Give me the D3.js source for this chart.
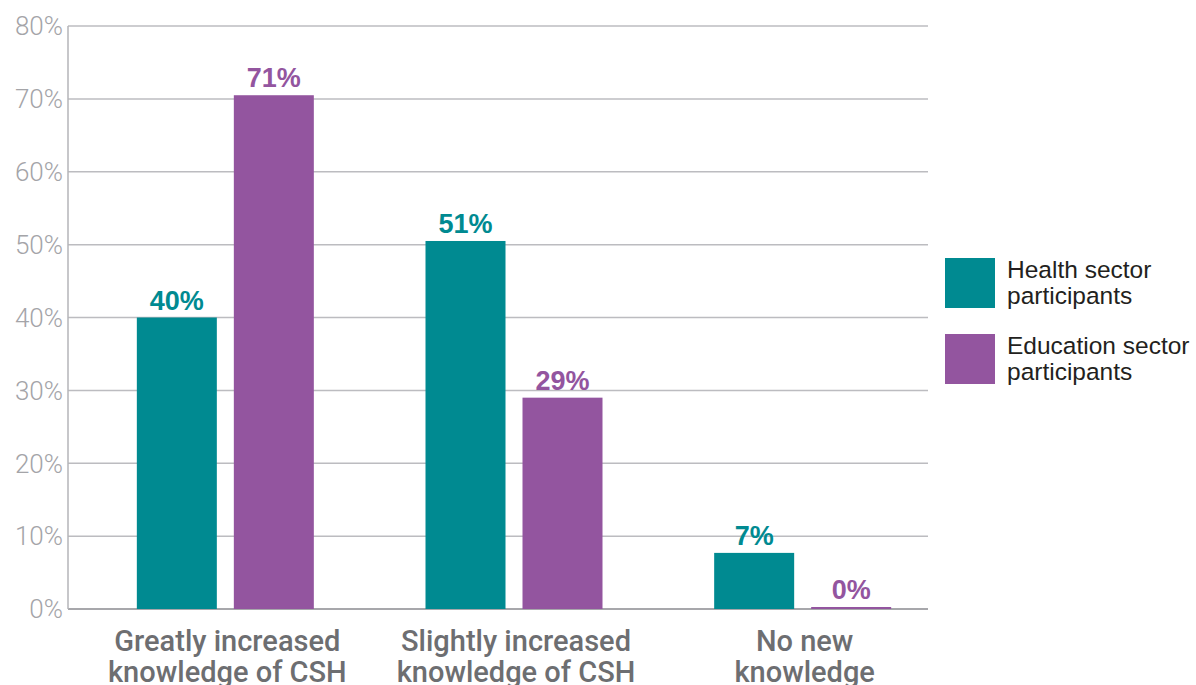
<!DOCTYPE html>
<html>
<head>
<meta charset="utf-8">
<script src="https://cdn.jsdelivr.net/npm/d3@7"></script>
<style>
  body { margin: 0; background: #fff; }
  svg { display: block; font-family: "Liberation Sans", Arial, sans-serif; }
</style>
</head>
<body>
<svg id="chart" width="1196" height="685"></svg>
<script>
// categories and series
const categories = [
    ["Greatly increased", "knowledge of CSH"],
    ["Slightly increased", "knowledge of CSH"],
    ["No new", "knowledge"]
];
const seriesNames = ["Health sector participants", "Education sector participants"];
const health = [40, 50.5, 7.7];
const education = [70.5, 29, 0];
const healthLabels = ["40%", "51%", "7%"];
const educationLabels = ["71%", "29%", "0%"];
const yTicks = [0, 10, 20, 30, 40, 50, 60, 70, 80];

const colors = ["#008a91", "#93559f"];

const svg = d3.select("#chart");

let plot = {left: 68, right: 928, top: 26, bottom: 609};

let y = d3.scaleLinear().domain([0, 80]).range([plot.bottom, plot.top]);

let x = d3.scaleBand()
    .domain(d3.range(categories.length))
    .range([81, 947]);

// two bars per group, 80px wide with a 17px gap
let groupWidth = 177;
let xSub = d3.scaleBand()
    .domain([0, 1])
    .range([0, groupWidth])
    .paddingInner(17 / 97);

let barX = d => x(d.cat) + x.bandwidth() / 2 - groupWidth / 2 + xSub(d.s);

// grid lines
svg.append("g")
    .selectAll("line")
    .data(yTicks)
    .enter().append("line")
    .attr("x1", plot.left)
    .attr("x2", plot.right)
    .attr("y1", d => y(d))
    .attr("y2", d => y(d))
    .attr("stroke", d => d === 0 ? "#a7a7ab" : "#bcbcc0")
    .attr("stroke-width", d => d === 0 ? 2 : 1.5);

// left axis line
svg.append("line")
    .attr("x1", plot.left).attr("x2", plot.left)
    .attr("y1", plot.top).attr("y2", plot.bottom)
    .attr("stroke", "#b4b4b8")
    .attr("stroke-width", 1.5);

// y tick labels
svg.append("g")
    .selectAll("text")
    .data(yTicks)
    .enter().append("text")
    .attr("x", plot.left - 5)
    .attr("y", d => y(d))
    .attr("dy", "0.36em")
    .attr("text-anchor", "end")
    .attr("font-family", "Roboto, sans-serif")
    .attr("font-weight", 300)
    .attr("font-size", 26)
    .attr("fill", "#a4a4a8")
    .text(d => d + "%");

// bars
let rows = categories.map((c, i) => [
    {cat: i, s: 0, v: health[i], label: healthLabels[i]},
    {cat: i, s: 1, v: education[i], label: educationLabels[i]}
]).flat();

let groups = svg.append("g");

groups.selectAll("rect")
    .data(rows)
    .enter().append("rect")
    .attr("x", barX)
    .attr("width", xSub.bandwidth())
    .attr("y", d => d.v > 0 ? y(d.v) : y(0) - 2)
    .attr("height", d => d.v > 0 ? y(0) - y(d.v) : 2)
    .attr("fill", d => colors[d.s]);

// value labels
groups.selectAll("text")
    .data(rows)
    .enter().append("text")
    .attr("x", d => barX(d) + xSub.bandwidth() / 2)
    .attr("y", d => (d.v > 0 ? y(d.v) : y(0) - 2) - 8)
    .attr("text-anchor", "middle")
    .attr("font-size", 27)
    .attr("font-weight", "bold")
    .attr("fill", d => colors[d.s])
    .text(d => d.label);

// category labels (the second line runs off the bottom edge, as in the original)
let catText = svg.append("g")
    .selectAll("text")
    .data(categories)
    .enter().append("text")
    .attr("x", (d, i) => x(i) + x.bandwidth() / 2 + 2)
    .attr("y", 651)
    .attr("text-anchor", "middle")
    .attr("font-family", "Roboto, sans-serif")
    .attr("font-weight", 500)
    .attr("font-size", 29)
    .attr("fill", "#6d6e71");

catText.selectAll("tspan")
    .data(d => d)
    .enter().append("tspan")
    .attr("x", function () { return d3.select(this.parentNode).attr("x"); })
    .attr("dy", (d, i) => i === 0 ? 0 : 31)
    .text(d => d);

// legend
let legend = svg.append("g")
    .selectAll("g")
    .data(seriesNames)
    .enter().append("g")
    .attr("transform", (d, i) => `translate(945,${258 + i * 76})`);

legend.append("rect")
    .attr("width", 50)
    .attr("height", 50)
    .attr("fill", (d, i) => colors[i]);

legend.append("text")
    .attr("x", 62)
    .attr("y", 20)
    .attr("font-size", 24.5)
    .attr("fill", "#231f20")
    .selectAll("tspan")
    .data(d => {
        let words = d.split(" ");
        return [words.slice(0, 2).join(" "), words.slice(2).join(" ")];
    })
    .enter().append("tspan")
    .attr("x", 62)
    .attr("dy", (d, i) => i === 0 ? 0 : 26)
    .text(d => d);
</script>
</body>
</html>
